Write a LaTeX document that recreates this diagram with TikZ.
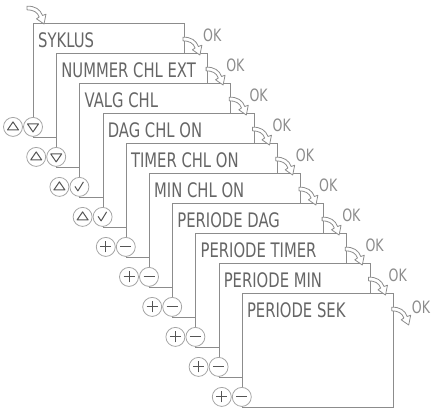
\documentclass[tikz,border=0pt]{standalone}
\usepackage{fontspec}
\newfontfamily\lcdfont[FakeStretch=0.74]{DejaVu Sans}
\usetikzlibrary{positioning}

\definecolor{cardline}{HTML}{8C8C8C}
\definecolor{lcdtext}{HTML}{666666}
\definecolor{btnline}{HTML}{A5A5A5}
\definecolor{btnsym}{HTML}{555555}

\tikzset{
  card/.style={draw=cardline, fill=white, line width=0.9pt, minimum width=151pt, minimum height=114pt, inner sep=0pt, anchor=north west},
  title/.style={text=lcdtext, font=\lcdfont\fontsize{20}{20}\selectfont, inner sep=0pt, anchor=base west},
  oklabel/.style={text=cardline, font=\lcdfont\fontsize{17}{17}\selectfont, inner sep=0pt, anchor=base west},
  button/.style={circle, draw=btnline, fill=white, line width=0.8pt, minimum size=19pt, inner sep=0pt},
  sym/.style={draw=btnsym, line width=1pt, line join=round},
  btnup/.style={button, path picture={\draw[sym] ([shift={(-5.5,-3)}]path picture bounding box.center) -- ++(11,0) -- ++(-5.5,8) -- cycle;}},
  btndown/.style={button, path picture={\draw[sym] ([shift={(-5.5,3)}]path picture bounding box.center) -- ++(11,0) -- ++(-5.5,-8) -- cycle;}},
  btncheck/.style={button, path picture={\draw[sym] ([shift={(-4.5,0.5)}]path picture bounding box.center) -- ++(3,-4.5) -- ++(5.5,9);}},
  btnplus/.style={button, path picture={\draw[sym] ([shift={(-5.5,0)}]path picture bounding box.center) -- ++(11,0) ([shift={(0,-5.5)}]path picture bounding box.center) -- ++(0,11);}},
  btnminus/.style={button, path picture={\draw[sym] ([shift={(-5.5,0)}]path picture bounding box.center) -- ++(11,0);}},
  okarrow/.pic={\draw[cardline, fill=white, line width=0.8pt, line join=round]
    (0,1.8) .. controls (8,2.2) and (13.5,-1.5) .. (15.5,-7.5) -- (19,-6.2) -- (17,-16)
    -- (9.5,-10.8) -- (12.2,-9) .. controls (10.5,-4) and (6,-1.8) .. (0,-1.8) -- cycle;}
}

\begin{document}
\begin{tikzpicture}[x=1pt, y=1pt]
\useasboundingbox (0,0) rectangle (432,-408);
% cards, each one step down and right of the last
\node[card] (c1) at (33,-23) {};
\node[title] (t1) at ([shift={(5,-24)}]c1.north west) {SYKLUS};
\node[btnup] (u1) at ([shift={(-20,11)}]c1.south west) {};
\node[btndown] (d1) at ([shift={(0,11)}]c1.south west) {};

\node[card, below right=30pt and 23.2pt of c1.north west] (c2) {};
\node[title] (t2) at ([shift={(5,-24)}]c2.north west) {NUMMER CHL EXT};
\node[btnup] (u2) at ([shift={(-20,11)}]c2.south west) {};
\node[btndown] (d2) at ([shift={(0,11)}]c2.south west) {};

\node[card, below right=30pt and 23.2pt of c2.north west] (c3) {};
\node[title] (t3) at ([shift={(5,-24)}]c3.north west) {VALG CHL};
\node[btnup] (u3) at ([shift={(-20,11)}]c3.south west) {};
\node[btncheck] (k3) at ([shift={(0,11)}]c3.south west) {};

\node[card, below right=30pt and 23.2pt of c3.north west] (c4) {};
\node[title] (t4) at ([shift={(5,-24)}]c4.north west) {DAG CHL ON};
\node[btnup] (u4) at ([shift={(-20,11)}]c4.south west) {};
\node[btncheck] (k4) at ([shift={(0,11)}]c4.south west) {};

\node[card, below right=30pt and 23.2pt of c4.north west] (c5) {};
\node[title] (t5) at ([shift={(5,-24)}]c5.north west) {TIMER CHL ON};
\node[btnplus] (p5) at ([shift={(-20,11)}]c5.south west) {};
\node[btnminus] (m5) at ([shift={(0,11)}]c5.south west) {};

\node[card, below right=30pt and 23.2pt of c5.north west] (c6) {};
\node[title] (t6) at ([shift={(5,-24)}]c6.north west) {MIN CHL ON};
\node[btnplus] (p6) at ([shift={(-20,11)}]c6.south west) {};
\node[btnminus] (m6) at ([shift={(0,11)}]c6.south west) {};

\node[card, below right=30pt and 23.2pt of c6.north west] (c7) {};
\node[title] (t7) at ([shift={(5,-24)}]c7.north west) {PERIODE DAG};
\node[btnplus] (p7) at ([shift={(-20,11)}]c7.south west) {};
\node[btnminus] (m7) at ([shift={(0,11)}]c7.south west) {};

\node[card, below right=30pt and 23.2pt of c7.north west] (c8) {};
\node[title] (t8) at ([shift={(5,-24)}]c8.north west) {PERIODE TIMER};
\node[btnplus] (p8) at ([shift={(-20,11)}]c8.south west) {};
\node[btnminus] (m8) at ([shift={(0,11)}]c8.south west) {};

\node[card, below right=30pt and 23.2pt of c8.north west] (c9) {};
\node[title] (t9) at ([shift={(5,-24)}]c9.north west) {PERIODE MIN};
\node[btnplus] (p9) at ([shift={(-20,11)}]c9.south west) {};
\node[btnminus] (m9) at ([shift={(0,11)}]c9.south west) {};

\node[card, below right=30pt and 23.2pt of c9.north west] (c10) {};
\node[title] (t10) at ([shift={(5,-24)}]c10.north west) {PERIODE SEK};
\node[btnplus] (p10) at ([shift={(-20,11)}]c10.south west) {};
\node[btnminus] (m10) at ([shift={(0,11)}]c10.south west) {};

% OK arrows
\pic (a0) at ([shift={(-6,15)}]c1.north west) {okarrow};
\pic (a1) at ([shift={(-2,-16)}]c1.north east) {okarrow};
\pic (a2) at ([shift={(-2,-16)}]c2.north east) {okarrow};
\pic (a3) at ([shift={(-2,-16)}]c3.north east) {okarrow};
\pic (a4) at ([shift={(-2,-16)}]c4.north east) {okarrow};
\pic (a5) at ([shift={(-2,-16)}]c5.north east) {okarrow};
\pic (a6) at ([shift={(-2,-16)}]c6.north east) {okarrow};
\pic (a7) at ([shift={(-2,-16)}]c7.north east) {okarrow};
\pic (a8) at ([shift={(-2,-16)}]c8.north east) {okarrow};
\pic (a9) at ([shift={(-2,-16)}]c9.north east) {okarrow};
\pic (a10) at ([shift={(-2,-16)}]c10.north east) {okarrow};
\node[oklabel] (ok1) at ([shift={(18,-18)}]c1.north east) {OK};
\node[oklabel] (ok2) at ([shift={(18,-18)}]c2.north east) {OK};
\node[oklabel] (ok3) at ([shift={(18,-18)}]c3.north east) {OK};
\node[oklabel] (ok4) at ([shift={(18,-18)}]c4.north east) {OK};
\node[oklabel] (ok5) at ([shift={(18,-18)}]c5.north east) {OK};
\node[oklabel] (ok6) at ([shift={(18,-18)}]c6.north east) {OK};
\node[oklabel] (ok7) at ([shift={(18,-18)}]c7.north east) {OK};
\node[oklabel] (ok8) at ([shift={(18,-18)}]c8.north east) {OK};
\node[oklabel] (ok9) at ([shift={(18,-18)}]c9.north east) {OK};
\node[oklabel] (ok10) at ([shift={(18,-20)}]c10.north east) {OK};
\end{tikzpicture}
\end{document}
